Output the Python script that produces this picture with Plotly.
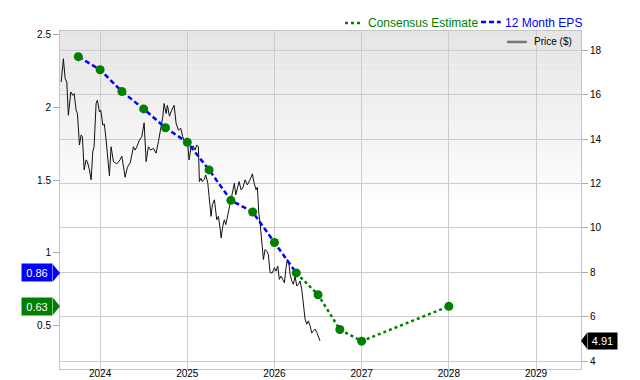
import plotly.graph_objects as go

# ---------------- data ----------------
price_x = [2023.553, 2023.579, 2023.599, 2023.618, 2023.636, 2023.664, 2023.687, 2023.702, 2023.725, 2023.740,
           2023.763, 2023.782, 2023.797, 2023.817, 2023.839, 2023.854, 2023.877, 2023.897, 2023.916, 2023.931,
           2023.954, 2023.969, 2023.992, 2024.008, 2024.031, 2024.049, 2024.069, 2024.088, 2024.107, 2024.126,
           2024.153, 2024.192, 2024.229, 2024.249, 2024.267, 2024.287, 2024.313, 2024.344, 2024.364, 2024.382,
           2024.401, 2024.421, 2024.451, 2024.478, 2024.505, 2024.528, 2024.554, 2024.581, 2024.611, 2024.642,
           2024.669, 2024.696, 2024.719, 2024.734, 2024.757, 2024.772, 2024.795, 2024.822, 2024.849, 2024.872,
           2024.898, 2024.925, 2024.948, 2024.975, 2025.006, 2025.021, 2025.044, 2025.070, 2025.089, 2025.109,
           2025.127, 2025.139, 2025.158, 2025.173, 2025.196, 2025.212, 2025.235, 2025.250, 2025.273, 2025.288,
           2025.311, 2025.338, 2025.357, 2025.376, 2025.388, 2025.407, 2025.425, 2025.442, 2025.460, 2025.483,
           2025.502, 2025.522, 2025.540, 2025.556, 2025.575, 2025.594, 2025.617, 2025.636, 2025.663, 2025.689,
           2025.720, 2025.747, 2025.766, 2025.789, 2025.804, 2025.820, 2025.835, 2025.854, 2025.873, 2025.892,
           2025.912, 2025.930, 2025.950, 2025.976, 2025.999, 2026.018, 2026.038, 2026.056, 2026.076, 2026.095,
           2026.114, 2026.133, 2026.148, 2026.164, 2026.179, 2026.198, 2026.217, 2026.236, 2026.256, 2026.274,
           2026.294, 2026.313, 2026.331, 2026.351, 2026.370, 2026.389, 2026.408, 2026.428, 2026.446, 2026.466,
           2026.485, 2026.503, 2026.523]
price_y = [16.58, 17.63, 16.73, 16.58, 15.08, 16.13, 15.98, 16.06, 15.31, 15.16,
           13.74, 14.19, 14.11, 12.62, 13.07, 12.99, 12.62, 12.17, 13.44, 13.66,
           15.61, 15.76, 15.23, 15.31, 14.64, 14.68, 13.96, 13.07, 12.35, 13.66,
           12.99, 12.89, 13.07, 13.24, 12.76, 12.29, 12.74, 12.93, 13.29, 13.66,
           13.51, 13.66, 13.96, 14.11, 14.74, 12.99, 13.66, 13.51, 13.59, 13.37,
           13.89, 14.41, 15.01, 15.61, 15.16, 15.53, 15.04, 15.31, 15.53, 14.71,
           14.41, 14.49, 14.11, 13.81, 13.74, 13.07, 13.66, 13.69, 13.51, 13.74,
           13.66, 12.09, 12.24, 12.09, 12.20, 12.39, 12.02, 11.42, 10.52, 11.05,
           11.27, 10.37, 10.52, 10.00, 9.55, 10.07, 10.37, 10.15, 10.52, 10.97,
           11.27, 11.64, 12.02, 11.49, 11.87, 12.09, 11.72, 11.80, 12.17, 11.94,
           12.17, 12.44, 12.03, 11.72, 11.84, 10.67, 10.22, 9.18, 8.58, 9.03,
           8.95, 8.80, 7.98, 7.98, 8.21, 8.05, 8.28, 7.68, 7.83, 7.68,
           7.53, 8.21, 8.58, 8.43, 7.91, 7.61, 7.46, 7.83, 7.38, 7.46,
           7.61, 7.23, 6.48, 5.89, 5.66, 5.81, 5.59, 5.26, 5.36, 5.44,
           5.29, 5.14, 4.91]

eps_x = [2023.75, 2024.0, 2024.25, 2024.5, 2024.75, 2025.0, 2025.25, 2025.5, 2025.75, 2026.0, 2026.25]
eps_y = [2.35, 2.26, 2.11, 1.99, 1.86, 1.76, 1.57, 1.36, 1.28, 1.07, 0.86]

cons_x = [2026.25, 2026.5, 2026.75, 2027.0, 2028.0]
cons_y = [0.86, 0.71, 0.47, 0.39, 0.63]

year_ticks = [2024, 2025, 2026, 2027, 2028, 2029]
year_labels = ["2024", "2025", "2026", "2027", "2028", "2029"]
eps_ticks = [0.5, 1, 1.5, 2, 2.5]
eps_labels = ["0.5", "1", "1.5", "2", "2.5"]
price_ticks = [4, 6, 8, 10, 12, 14, 16, 18]
price_labels = ["4", "6", "8", "10", "12", "14", "16", "18"]

last_eps = 0.86
next_cons = 0.63
last_price = 4.91

# ---------------- style ----------------
FONT = "Liberation Sans, Arial, Helvetica, sans-serif"
GREEN = "#008000"
BLUE = "#0000ff"
GRID = "#cccccc"
BORDER = "#c4c4c4"

fig = go.Figure()

# price (base axis, drawn below EPS traces)
fig.add_trace(go.Scatter(x=price_x, y=price_y, mode="lines", yaxis="y",
                         line=dict(color="#111111", width=1), showlegend=False,
                         hoverinfo="skip"))
# consensus estimate
fig.add_trace(go.Scatter(x=cons_x, y=cons_y, mode="lines", yaxis="y2",
                         line=dict(color=GREEN, width=2.5, dash="3px,3px"),
                         showlegend=False, hoverinfo="skip"))
# 12 month eps
fig.add_trace(go.Scatter(x=eps_x, y=eps_y, mode="lines", yaxis="y2",
                         line=dict(color=BLUE, width=2.5, dash="5px,3px"),
                         showlegend=False, hoverinfo="skip"))
# markers
fig.add_trace(go.Scatter(x=eps_x + cons_x[1:], y=eps_y + cons_y[1:], mode="markers", yaxis="y2",
                         marker=dict(color=GREEN, size=9, line=dict(width=0)),
                         showlegend=False, hoverinfo="skip"))

# background gradient (top half of plot area)
shapes = []
n = 25
for i in range(n):
    y0 = 0.5 + 0.5 * i / n
    y1 = 0.5 + 0.5 * (i + 1) / n
    t = (i + 0.5) / n
    c = int(round(253 - t * (253 - 229)))
    shapes.append(dict(type="rect", xref="x domain", yref="y domain", x0=0, x1=1, y0=y0, y1=y1,
                       fillcolor=f"rgb({c},{c},{c})", line=dict(width=0), layer="below"))

# value tag arrows
shapes.append(dict(type="path", xref="paper", xsizemode="pixel", xanchor=0,
                   yref="y2", ysizemode="pixel", yanchor=last_eps,
                   path="M-7,-8.5 L0,0 L-7,8.5 Z", fillcolor=BLUE, line=dict(width=0)))
shapes.append(dict(type="path", xref="paper", xsizemode="pixel", xanchor=0,
                   yref="y2", ysizemode="pixel", yanchor=next_cons,
                   path="M-7,-8.5 L0,0 L-7,8.5 Z", fillcolor=GREEN, line=dict(width=0)))
shapes.append(dict(type="path", xref="paper", xsizemode="pixel", xanchor=1,
                   yref="y", ysizemode="pixel", yanchor=last_price,
                   path="M6,-8 L0,0 L6,8 Z", fillcolor="#000000", line=dict(width=0)))

# legend symbols
shapes.append(dict(type="line", xref="paper", yref="paper", x0=0.547, x1=0.578, y0=1.0236, y1=1.0236,
                   line=dict(color=GREEN, width=2.5, dash="3px,3px")))
shapes.append(dict(type="line", xref="paper", yref="paper", x0=0.808, x1=0.846, y0=1.0265, y1=1.0265,
                   line=dict(color=BLUE, width=2.5, dash="5px,3px")))
shapes.append(dict(type="line", xref="paper", yref="paper", x0=0.858, x1=0.896, y0=0.9676, y1=0.9676,
                   line=dict(color="#777777", width=2.5)))

annotations = [
    dict(text="Consensus Estimate", xref="paper", yref="paper", x=0.587, y=1.0236,
         xanchor="left", yanchor="middle", showarrow=False,
         font=dict(family=FONT, size=12, color=GREEN)),
    dict(text="12 Month EPS", xref="paper", yref="paper", x=0.851, y=1.0236,
         xanchor="left", yanchor="middle", showarrow=False,
         font=dict(family=FONT, size=12, color=BLUE)),
    dict(text="Price ($)", xref="paper", yref="paper", x=0.906, y=0.9676,
         xanchor="left", yanchor="middle", showarrow=False,
         font=dict(family=FONT, size=10, color="#000000")),
    dict(text=f"{last_eps:.2f}", xref="paper", yref="y2", x=0, y=last_eps,
         xanchor="right", yanchor="middle", xshift=-7, showarrow=False,
         bgcolor=BLUE, width=26, height=13, borderpad=2,
         font=dict(family=FONT, size=11, color="#ffffff")),
    dict(text=f"{next_cons:.2f}", xref="paper", yref="y2", x=0, y=next_cons,
         xanchor="right", yanchor="middle", xshift=-7, showarrow=False,
         bgcolor=GREEN, width=26, height=13, borderpad=2,
         font=dict(family=FONT, size=11, color="#ffffff")),
    dict(text=f"{last_price:.2f}", xref="paper", yref="y", x=1, y=last_price,
         xanchor="left", yanchor="middle", xshift=6, showarrow=False,
         bgcolor="#000000", width=25, height=12, borderpad=2,
         font=dict(family=FONT, size=11, color="#ffffff")),
]

fig.update_layout(
    width=640, height=380,
    margin=dict(l=60, r=59, t=31, b=11, autoexpand=False),
    paper_bgcolor="#ffffff", plot_bgcolor="#ffffff",
    font=dict(family=FONT, size=10, color="#000000"),
    showlegend=False,
    shapes=shapes,
    annotations=annotations,
    xaxis=dict(range=[2023.54, 2029.516], tickvals=year_ticks, ticktext=year_labels,
               showgrid=True, gridcolor=GRID, gridwidth=1, zeroline=False, automargin=False,
               showline=True, linecolor=BORDER, linewidth=1, mirror=True,
               ticks="", ticklabelstandoff=-5, tickfont=dict(size=10, color="#000000")),
    yaxis=dict(range=[3.64, 18.88], tickvals=price_ticks, ticktext=price_labels, side="right",
               showgrid=True, gridcolor=GRID, gridwidth=1, zeroline=False, automargin=False,
               showline=True, linecolor=BORDER, linewidth=1, mirror=True,
               ticks="outside", ticklen=6, tickcolor="#aaaaaa",
               tickfont=dict(size=10, color="#000000")),
    yaxis2=dict(range=[0.198, 2.527], tickvals=eps_ticks, ticktext=eps_labels, side="left",
                overlaying="y", showgrid=False, zeroline=False, showline=False, automargin=False,
                ticks="outside", ticklen=6, tickcolor="#aaaaaa",
                tickfont=dict(size=10, color="#000000")),
)

fig.write_html("out.html")
